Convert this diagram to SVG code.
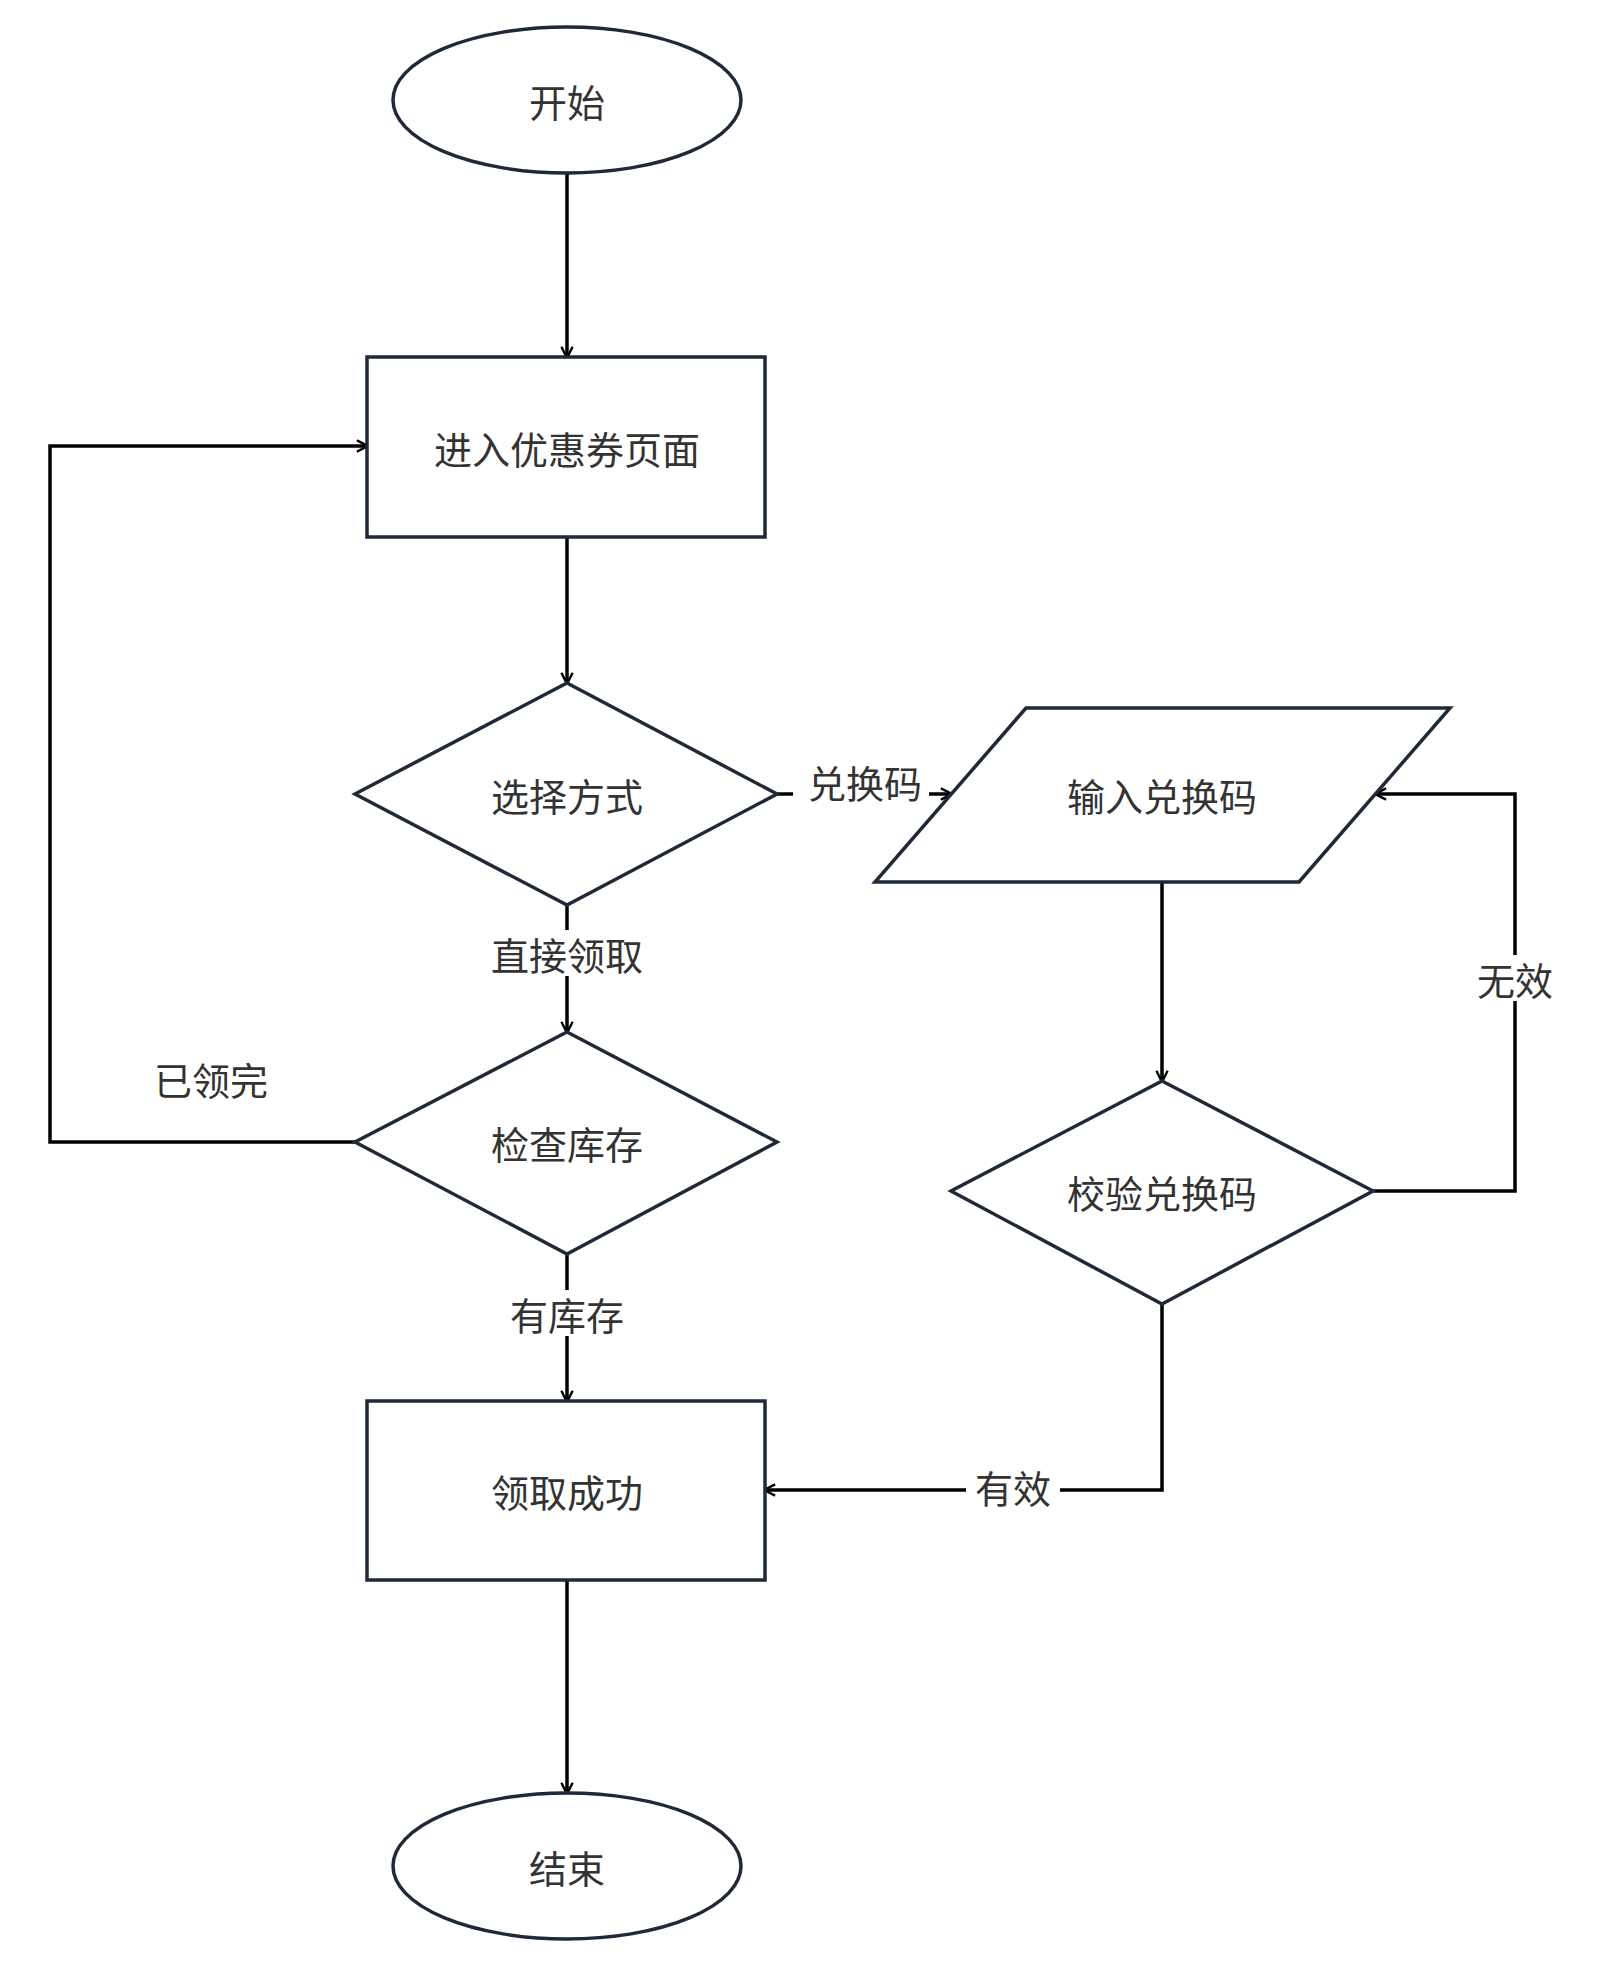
<svg xmlns="http://www.w3.org/2000/svg" width="1605" height="1977" viewBox="0 0 1605 1977">
<defs>
<style>
.s{fill:#fff;stroke:#1f2937;stroke-width:3.5}
.c{fill:none;stroke:#000;stroke-width:3.5}
text{font-family:"Noto Sans CJK SC","Noto Sans",sans-serif;font-size:38px;fill:#333;text-anchor:middle;dominant-baseline:central}
.bg{fill:#fff}
</style>
<marker id="a" viewBox="0 0 12 12" refX="11" refY="6" markerWidth="7" markerHeight="7" orient="auto" markerUnits="userSpaceOnUse" style="overflow:visible">
<path d="M0,0 L12,6 L0,12" fill="none" stroke="#000" stroke-width="2.5" transform="scale(1.6) translate(-4,-2.25)"/>
</marker>
</defs>
<rect width="1605" height="1977" fill="#fff"/>
<g id="connectors">
<path class="c" d="M567,173 V357" marker-end="url(#a)"/>
<path class="c" d="M567,537 V683" marker-end="url(#a)"/>
<path class="c" d="M567,905 V1032" marker-end="url(#a)"/>
<path class="c" d="M567,1254 V1401" marker-end="url(#a)"/>
<path class="c" d="M567,1580 V1793" marker-end="url(#a)"/>
<path class="c" d="M355,1142 H50 V446 H367" marker-end="url(#a)"/>
<path class="c" d="M777,794 H951" marker-end="url(#a)"/>
<path class="c" d="M1162,882 V1081" marker-end="url(#a)"/>
<path class="c" d="M1373,1191 H1515 V794 H1376" marker-end="url(#a)"/>
<path class="c" d="M1162,1304 V1490 H765" marker-end="url(#a)"/>
<rect class="bg" x="793" y="758" width="136" height="46"/>
<text x="865" y="781">兑换码</text>
<rect class="bg" x="477" y="930" width="180" height="46"/>
<text x="567" y="953">直接领取</text>
<rect class="bg" x="498" y="1290" width="138" height="46"/>
<text x="567" y="1313">有库存</text>
<text x="211" y="1078">已领完</text>
<rect class="bg" x="1468" y="955" width="94" height="46"/>
<text x="1515" y="978">无效</text>
<rect class="bg" x="966" y="1463" width="94" height="46"/>
<text x="1013" y="1486">有效</text>
</g>
<g id="start"><ellipse class="s" cx="567" cy="100" rx="174" ry="73"/><text x="567" y="100">开始</text></g>
<g id="enter"><rect class="s" x="367" y="357" width="398" height="180"/><text x="567" y="447">进入优惠券页面</text></g>
<g id="choose"><polygon class="s" points="567,683 777,794 567,905 355,794"/><text x="567" y="794">选择方式</text></g>
<g id="input"><polygon class="s" points="1026,708 1450,708 1299,882 875,882"/><text x="1162" y="794">输入兑换码</text></g>
<g id="stock"><polygon class="s" points="567,1032 777,1142 567,1254 355,1142"/><text x="567" y="1142">检查库存</text></g>
<g id="verify"><polygon class="s" points="1162,1081 1373,1191 1162,1304 951,1191"/><text x="1162" y="1191">校验兑换码</text></g>
<g id="success"><rect class="s" x="367" y="1401" width="398" height="179"/><text x="567" y="1490">领取成功</text></g>
<g id="end"><ellipse class="s" cx="567" cy="1866" rx="174" ry="73"/><text x="567" y="1866">结束</text></g>
</svg>
